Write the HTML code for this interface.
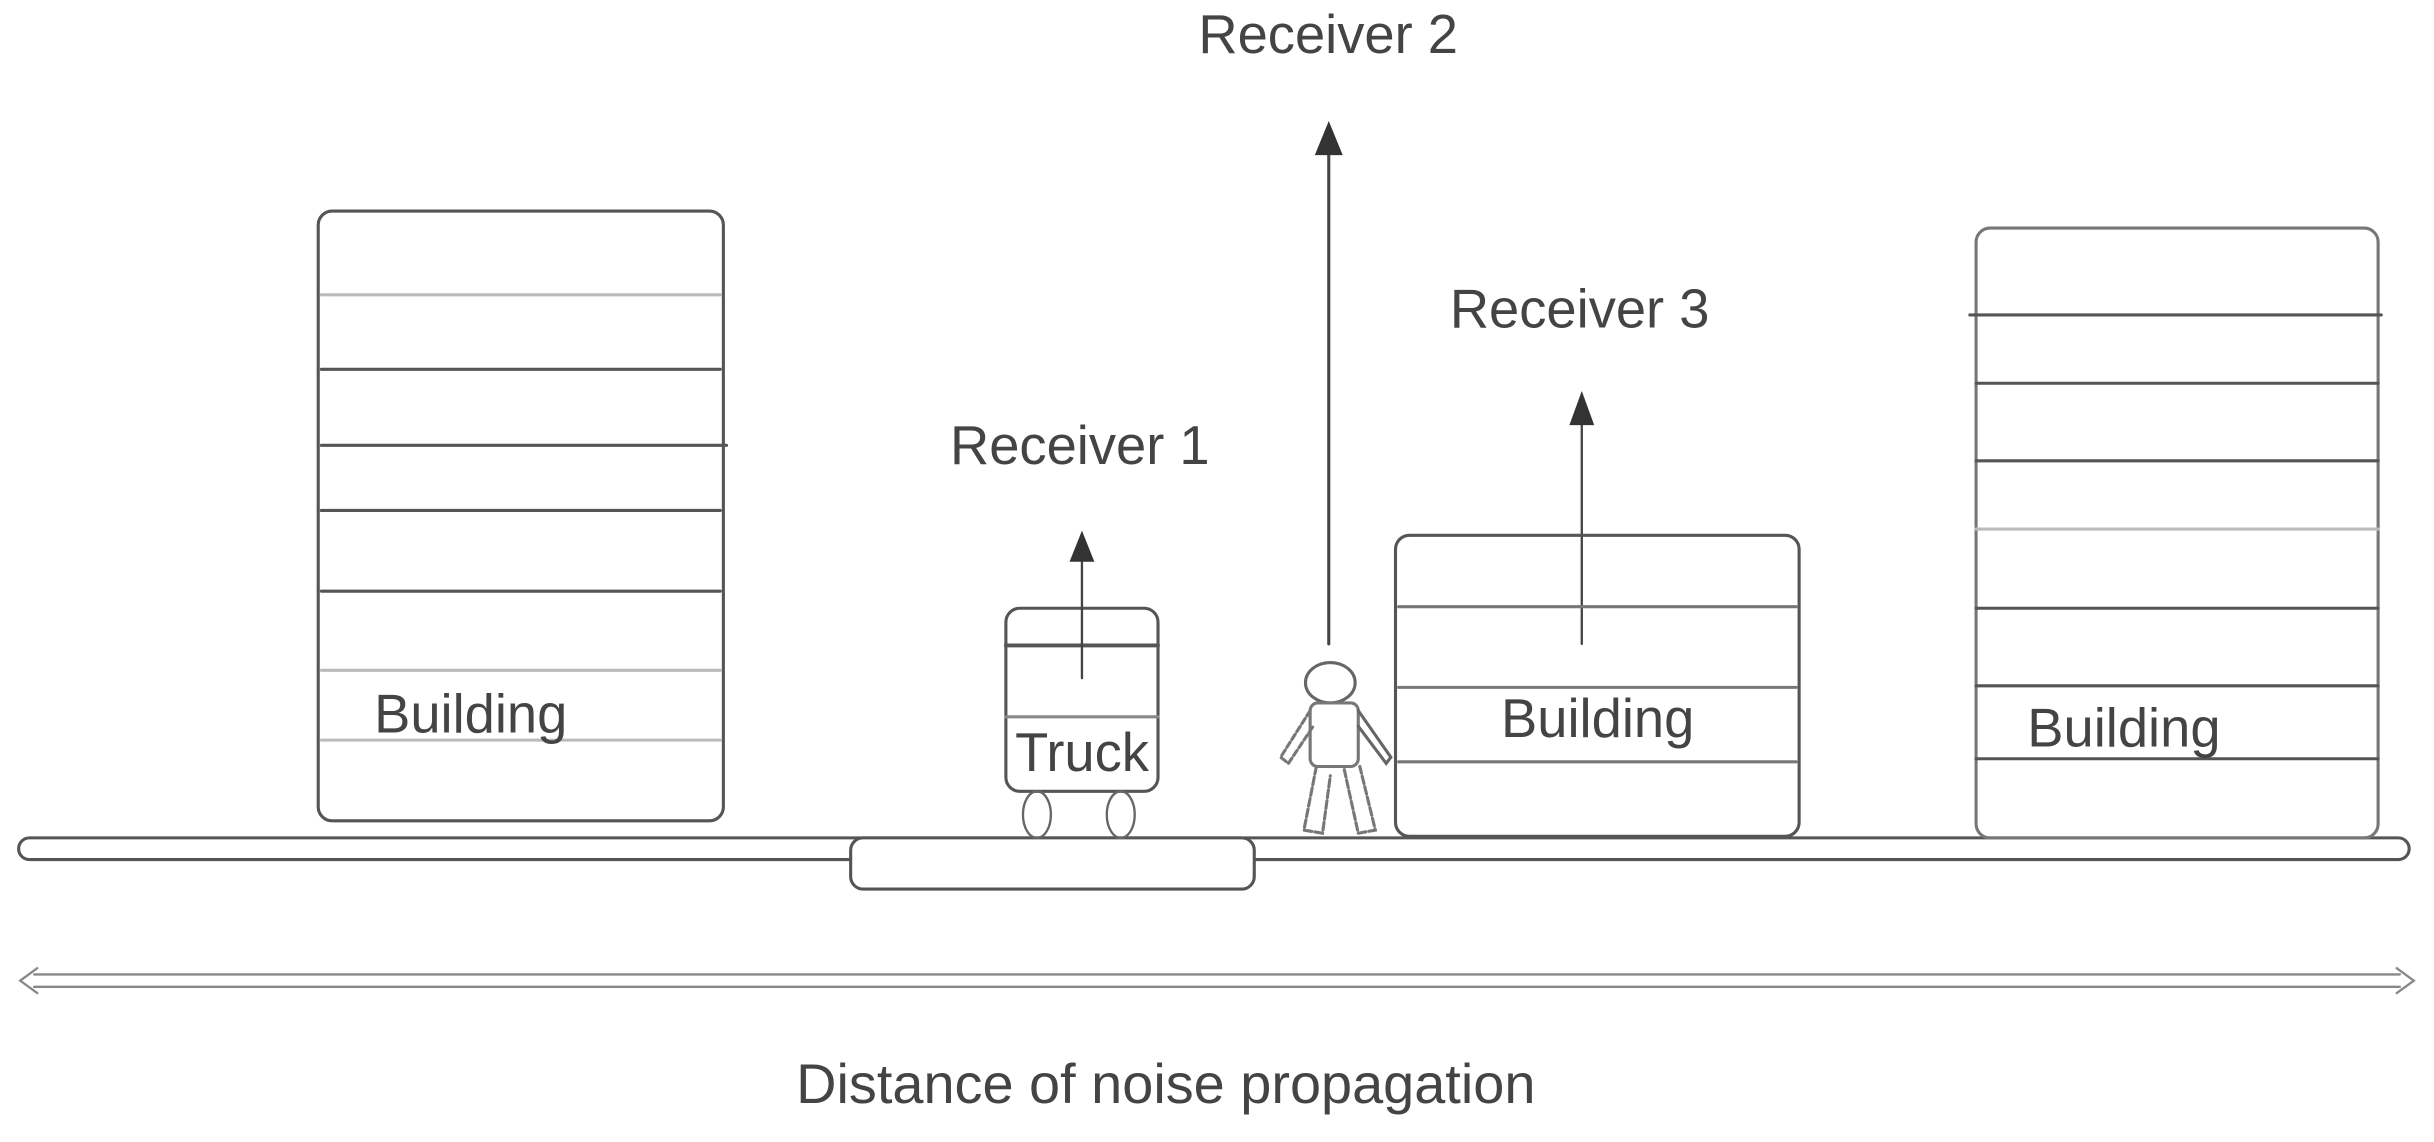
<!DOCTYPE html>
<html><head><meta charset="utf-8"><style>
html,body{margin:0;padding:0;background:#fff;}
svg{display:block;}
text{font-family:"Liberation Sans",sans-serif;fill:#444;}
</style></head><body>
<svg width="2434" height="1142" viewBox="0 0 1568 736" preserveAspectRatio="none" xmlns="http://www.w3.org/2000/svg">
<g fill="none" stroke-linecap="round">
<!-- ground -->
<rect x="12" y="540" width="1540" height="14" rx="7" stroke="#555" stroke-width="2" fill="#fff"/>
<rect x="548" y="540" width="260" height="33" rx="8" stroke="#555" stroke-width="2" fill="#fff"/>
<!-- distance arrow -->
<path d="M22 628 L1546 628 M22 636 L1546 636" stroke="#888" stroke-width="1.5"/>
<path d="M24 624 L13 632 L24 640 M1544 624 L1555 632 L1544 640" stroke="#888" stroke-width="1.5"/>
<!-- building 1 -->
<rect x="205" y="136" width="261" height="393" rx="9" stroke="#555" stroke-width="2"/>
<path d="M207 190H464M207 432H464M207 477H464" stroke="#bbb" stroke-width="2"/>
<path d="M207 238H464M207 287H468M207 329H464M207 381H464" stroke="#555" stroke-width="2"/>
<!-- truck -->
<rect x="648" y="392" width="98" height="118" rx="9" stroke="#555" stroke-width="2" fill="#fff"/>
<path d="M648 416H746" stroke="#555" stroke-width="2.5"/>
<path d="M648 462H746" stroke="#888" stroke-width="2"/>
<ellipse cx="668" cy="525" rx="9" ry="15" stroke="#666" stroke-width="1.5"/>
<ellipse cx="722" cy="525" rx="9" ry="15" stroke="#666" stroke-width="1.5"/>
<!-- arrows -->
<line x1="697" y1="437" x2="697" y2="360" stroke="#444" stroke-width="1.5"/>
<line x1="856" y1="415" x2="856" y2="98" stroke="#444" stroke-width="2"/>
<line x1="1019" y1="415" x2="1019" y2="272" stroke="#444" stroke-width="1.5"/>
<!-- person -->
<ellipse cx="857" cy="440" rx="16" ry="13" stroke="#666" stroke-width="2"/>
<rect x="844" y="453" width="31" height="41" rx="5" stroke="#777" stroke-width="2"/>
<path d="M844 458 L825 488 L830 492 L846 468" stroke="#777" stroke-width="2" stroke-dasharray="4 2"/>
<path d="M875 458 L896 488 L893 492 L875 468" stroke="#666" stroke-width="2"/>
<path d="M848 494 L840 535 L852 537 L857 500 M866 496 L875 537 L886 535 L876 494" stroke="#777" stroke-width="2" stroke-dasharray="5 2"/>
<!-- building 2 -->
<rect x="899" y="345" width="260" height="194" rx="9" stroke="#555" stroke-width="2"/>
<path d="M901 391H1157M901 443H1157M901 491H1157" stroke="#777" stroke-width="2"/>
<!-- building 3 -->
<rect x="1273" y="147" width="259" height="393" rx="9" stroke="#777" stroke-width="2"/>
<path d="M1269 203H1534M1273 247H1532M1273 297H1532M1273 392H1532M1273 442H1532M1273 489H1532" stroke="#555" stroke-width="2"/>
<path d="M1273 341H1532" stroke="#bbb" stroke-width="2"/>
</g>
<g fill="#333">
<path d="M697 342 L705 362 L689 362 Z"/>
<path d="M856 78 L865 100 L847 100 Z"/>
<path d="M1019 252 L1027 274 L1011 274 Z"/>
</g>
<text x="241" y="472" font-size="35">Building</text>
<text x="654" y="497" font-size="35">Truck</text>
<text x="967" y="475" font-size="35">Building</text>
<text x="1306" y="481" font-size="35">Building</text>
<text x="612" y="299" font-size="35">Receiver 1</text>
<text x="772" y="34" font-size="35">Receiver 2</text>
<text x="934" y="211" font-size="35">Receiver 3</text>
<text x="751" y="711" font-size="36" text-anchor="middle">Distance of noise propagation</text>
</svg>
</body></html>
